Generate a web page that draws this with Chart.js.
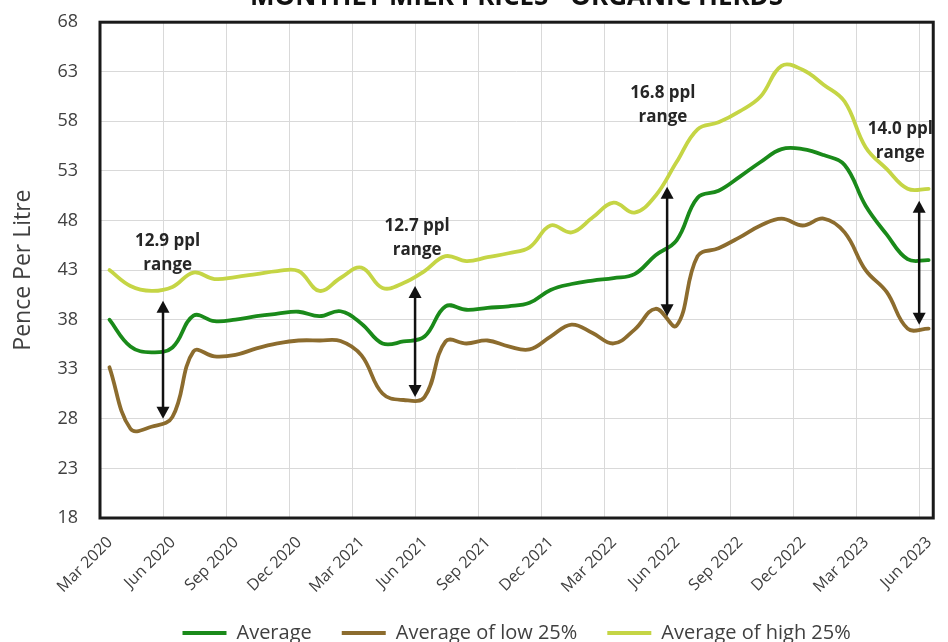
<!DOCTYPE html>
<html>
<head>
<meta charset="utf-8">
<script src="https://cdn.jsdelivr.net/npm/chart.js@4.4.1/dist/chart.umd.min.js"></script>
<style>
  html, body { margin: 0; padding: 0; background: #fff; }
  #frame { position: relative; width: 948px; height: 642px; overflow: hidden; background: #fff; }
  /* the reference is cropped at the top, so the canvas sits a little higher */
  #box { position: absolute; left: 0; top: -30px; width: 948px; height: 683px; }
</style>
</head>
<body>
<div id="frame"><div id="box"><canvas id="chart"></canvas></div></div>
<script>
// ── data (pence per litre, monthly) ──
const months = [
  'Mar 2020', 'Apr 2020', 'May 2020', 'Jun 2020', 'Jul 2020', 'Aug 2020', 'Sep 2020', 'Oct 2020',
  'Nov 2020', 'Dec 2020', 'Jan 2021', 'Feb 2021', 'Mar 2021', 'Apr 2021', 'May 2021', 'Jun 2021',
  'Jul 2021', 'Aug 2021', 'Sep 2021', 'Oct 2021', 'Nov 2021', 'Dec 2021', 'Jan 2022', 'Feb 2022',
  'Mar 2022', 'Apr 2022', 'May 2022', 'Jun 2022', 'Jul 2022', 'Aug 2022', 'Sep 2022', 'Oct 2022',
  'Nov 2022', 'Dec 2022', 'Jan 2023', 'Feb 2023', 'Mar 2023', 'Apr 2023', 'May 2023', 'Jun 2023'
];
const average = [
  38.0, 35.3, 34.7, 35.2, 38.4, 37.85, 38.0, 38.35, 38.6, 38.8, 38.35, 38.85, 37.6, 35.6, 35.8, 36.3,
  39.35, 39.0, 39.2, 39.35, 39.7, 41.0, 41.6, 41.95, 42.2, 42.6, 44.5, 46.0, 50.3, 51.0, 52.4, 53.9,
  55.2, 55.2, 54.6, 53.6, 49.5, 46.6, 44.1, 44.0
];
const low25 = [
  33.2, 27.0, 27.2, 28.2, 34.8, 34.3, 34.45, 35.1, 35.6, 35.9, 35.9, 35.85, 34.4, 30.55, 29.9, 30.2,
  35.8, 35.6, 35.9, 35.3, 35.0, 36.3, 37.5, 36.65, 35.6, 37.0, 39.1, 37.4, 44.4, 45.2, 46.3, 47.5,
  48.2, 47.5, 48.2, 46.8, 43.0, 40.8, 37.1, 37.1
];
const high25 = [
  43.0, 41.4, 40.9, 41.3, 42.75, 42.1, 42.3, 42.6, 42.9, 42.9, 40.9, 42.2, 43.25, 41.2, 41.7, 42.9,
  44.4, 43.9, 44.3, 44.7, 45.3, 47.5, 46.8, 48.3, 49.8, 48.8, 50.5, 53.9, 57.2, 57.9, 59.0, 60.5,
  63.6, 63.2, 61.7, 60.0, 55.4, 53.2, 51.2, 51.2
];
const tickEvery = 3;            // a labelled month every quarter
const yTicks = [18, 23, 28, 33, 38, 43, 48, 53, 58, 63, 68];

// range callouts: month index of the arrow, low/high ends, label
const rangeAt    = [3, 15, 27, 39];
const rangeLow   = [28.0, 30.2, 38.35, 37.5];
const rangeHigh  = [39.9, 41.4, 51.4, 50.0];
const rangeText  = ['12.9 ppl', '12.7 ppl', '16.8 ppl', '14.0 ppl'];

// where the callout text sits (data units)
const noteAt    = [3.22, 15.1, 26.8, 38.1];
const noteLevel = [45.9, 47.45, 60.8, 57.17];

const MID = 0.45;   // monthly figure plotted mid-month
const FONT = '"Open Sans", "DejaVu Sans", sans-serif';
const GREEN = '#1a8a1a', BROWN = '#8c6c2e', LIME = '#c5d545';
const GRID = '#d9d9d9', TEXT = '#404040';

const toPoints = arr => arr.map((v, i) => ({ x: i + MID, y: v }));

// black frame round the plot
const plotFrame = {
  id: 'plotFrame',
  afterDatasetsDraw(chart) {
    const { ctx, chartArea: a } = chart;
    ctx.save();
    ctx.strokeStyle = '#1a1a1a';
    ctx.lineWidth = 3;
    ctx.strokeRect(a.left, a.top, a.right - a.left, a.bottom - a.top);
    ctx.restore();
  }
};

// double-headed arrows + "x ppl range" notes
const rangeArrows = {
  id: 'rangeArrows',
  afterDraw(chart) {
    const { ctx, scales: { x, y } } = chart;
    const head = (px, tip, dir) => {
      ctx.beginPath();
      ctx.moveTo(px, tip);
      ctx.lineTo(px - 6.5, tip + dir * 12);
      ctx.lineTo(px + 6.5, tip + dir * 12);
      ctx.closePath();
      ctx.fill();
    };
    ctx.save();
    ctx.strokeStyle = '#111';
    ctx.fillStyle = '#111';
    ctx.lineWidth = 2.5;
    rangeAt.forEach((m, i) => {
      const px = x.getPixelForValue(m);
      const top = y.getPixelForValue(rangeHigh[i]);
      const bot = y.getPixelForValue(rangeLow[i]);
      ctx.beginPath();
      ctx.moveTo(px, top + 10);
      ctx.lineTo(px, bot - 10);
      ctx.stroke();
      head(px, top, 1);
      head(px, bot, -1);
    });
    ctx.font = 'bold 17px ' + FONT;
    ctx.textAlign = 'center';
    ctx.textBaseline = 'middle';
    ctx.fillStyle = '#262626';
    rangeText.forEach((t, i) => {
      const px = x.getPixelForValue(noteAt[i]);
      const py = y.getPixelForValue(noteLevel[i]);
      ctx.fillText(t, px, py);
      ctx.fillText('range', px, py + 24);
    });
    ctx.restore();
  }
};

new Chart(document.getElementById('chart'), {
  type: 'line',
  data: {
    datasets: [
      { label: 'Average', data: toPoints(average), borderColor: GREEN, backgroundColor: GREEN },
      { label: 'Average of low 25%', data: toPoints(low25), borderColor: BROWN, backgroundColor: BROWN },
      { label: 'Average of high 25%', data: toPoints(high25), borderColor: LIME, backgroundColor: LIME },
    ],
  },
  options: {
    responsive: true, maintainAspectRatio: false, animation: false,
    layout: { padding: { left: 0, right: 5, top: 0, bottom: 0 } },
    elements: {
      point: { radius: 0 },
      line: { borderWidth: 3.8, tension: 0.4, borderCapStyle: 'round', borderJoinStyle: 'round' },
    },
    plugins: {
      title: {
        display: true, fullSize: false,
        text: 'MONTHLY MILK PRICES - ORGANIC HERDS',
        color: '#111', font: { family: FONT, size: 26, weight: 'bold' },
        padding: { top: 12, bottom: 9 },
      },
      legend: {
        position: 'bottom', fullSize: false,
        labels: {
          boxWidth: 44, boxHeight: 4, padding: 30, color: TEXT,
          font: { family: FONT, size: 20 },
          generateLabels: chart => Chart.defaults.plugins.legend.labels.generateLabels(chart)
            .map(l => ({ ...l, lineWidth: 0, fillStyle: l.strokeStyle })),
        },
      },
      tooltip: { enabled: false },
    },
    scales: {
      x: {
        type: 'linear', min: 0, max: 39.67,
        afterBuildTicks: s => {
          s.ticks = months.map((m, i) => i).filter(i => i % tickEvery === 0).map(i => ({ value: i }));
        },
        afterFit: s => { s.height = 75; },
        ticks: {
          autoSkip: false, minRotation: 45, maxRotation: 45, labelOffset: 10, padding: 15,
          color: TEXT, font: { family: FONT, size: 16 },
          callback: v => months[v],
        },
        grid: { color: GRID, lineWidth: 1, drawTicks: false },
        border: { display: false },
      },
      y: {
        min: yTicks[0], max: yTicks[yTicks.length - 1],
        afterBuildTicks: s => { s.ticks = yTicks.map(v => ({ value: v })); },
        afterFit: s => { s.width = 100; },
        ticks: { padding: 22, color: TEXT, font: { family: FONT, size: 18 } },
        grid: { color: GRID, lineWidth: 1, drawTicks: false },
        border: { display: false },
        title: {
          display: true, text: 'Pence Per Litre', color: TEXT,
          font: { family: FONT, size: 23 }, padding: { top: 10, bottom: 0 },
        },
      },
    },
  },
  plugins: [plotFrame, rangeArrows],
});
</script>
</body>
</html>
